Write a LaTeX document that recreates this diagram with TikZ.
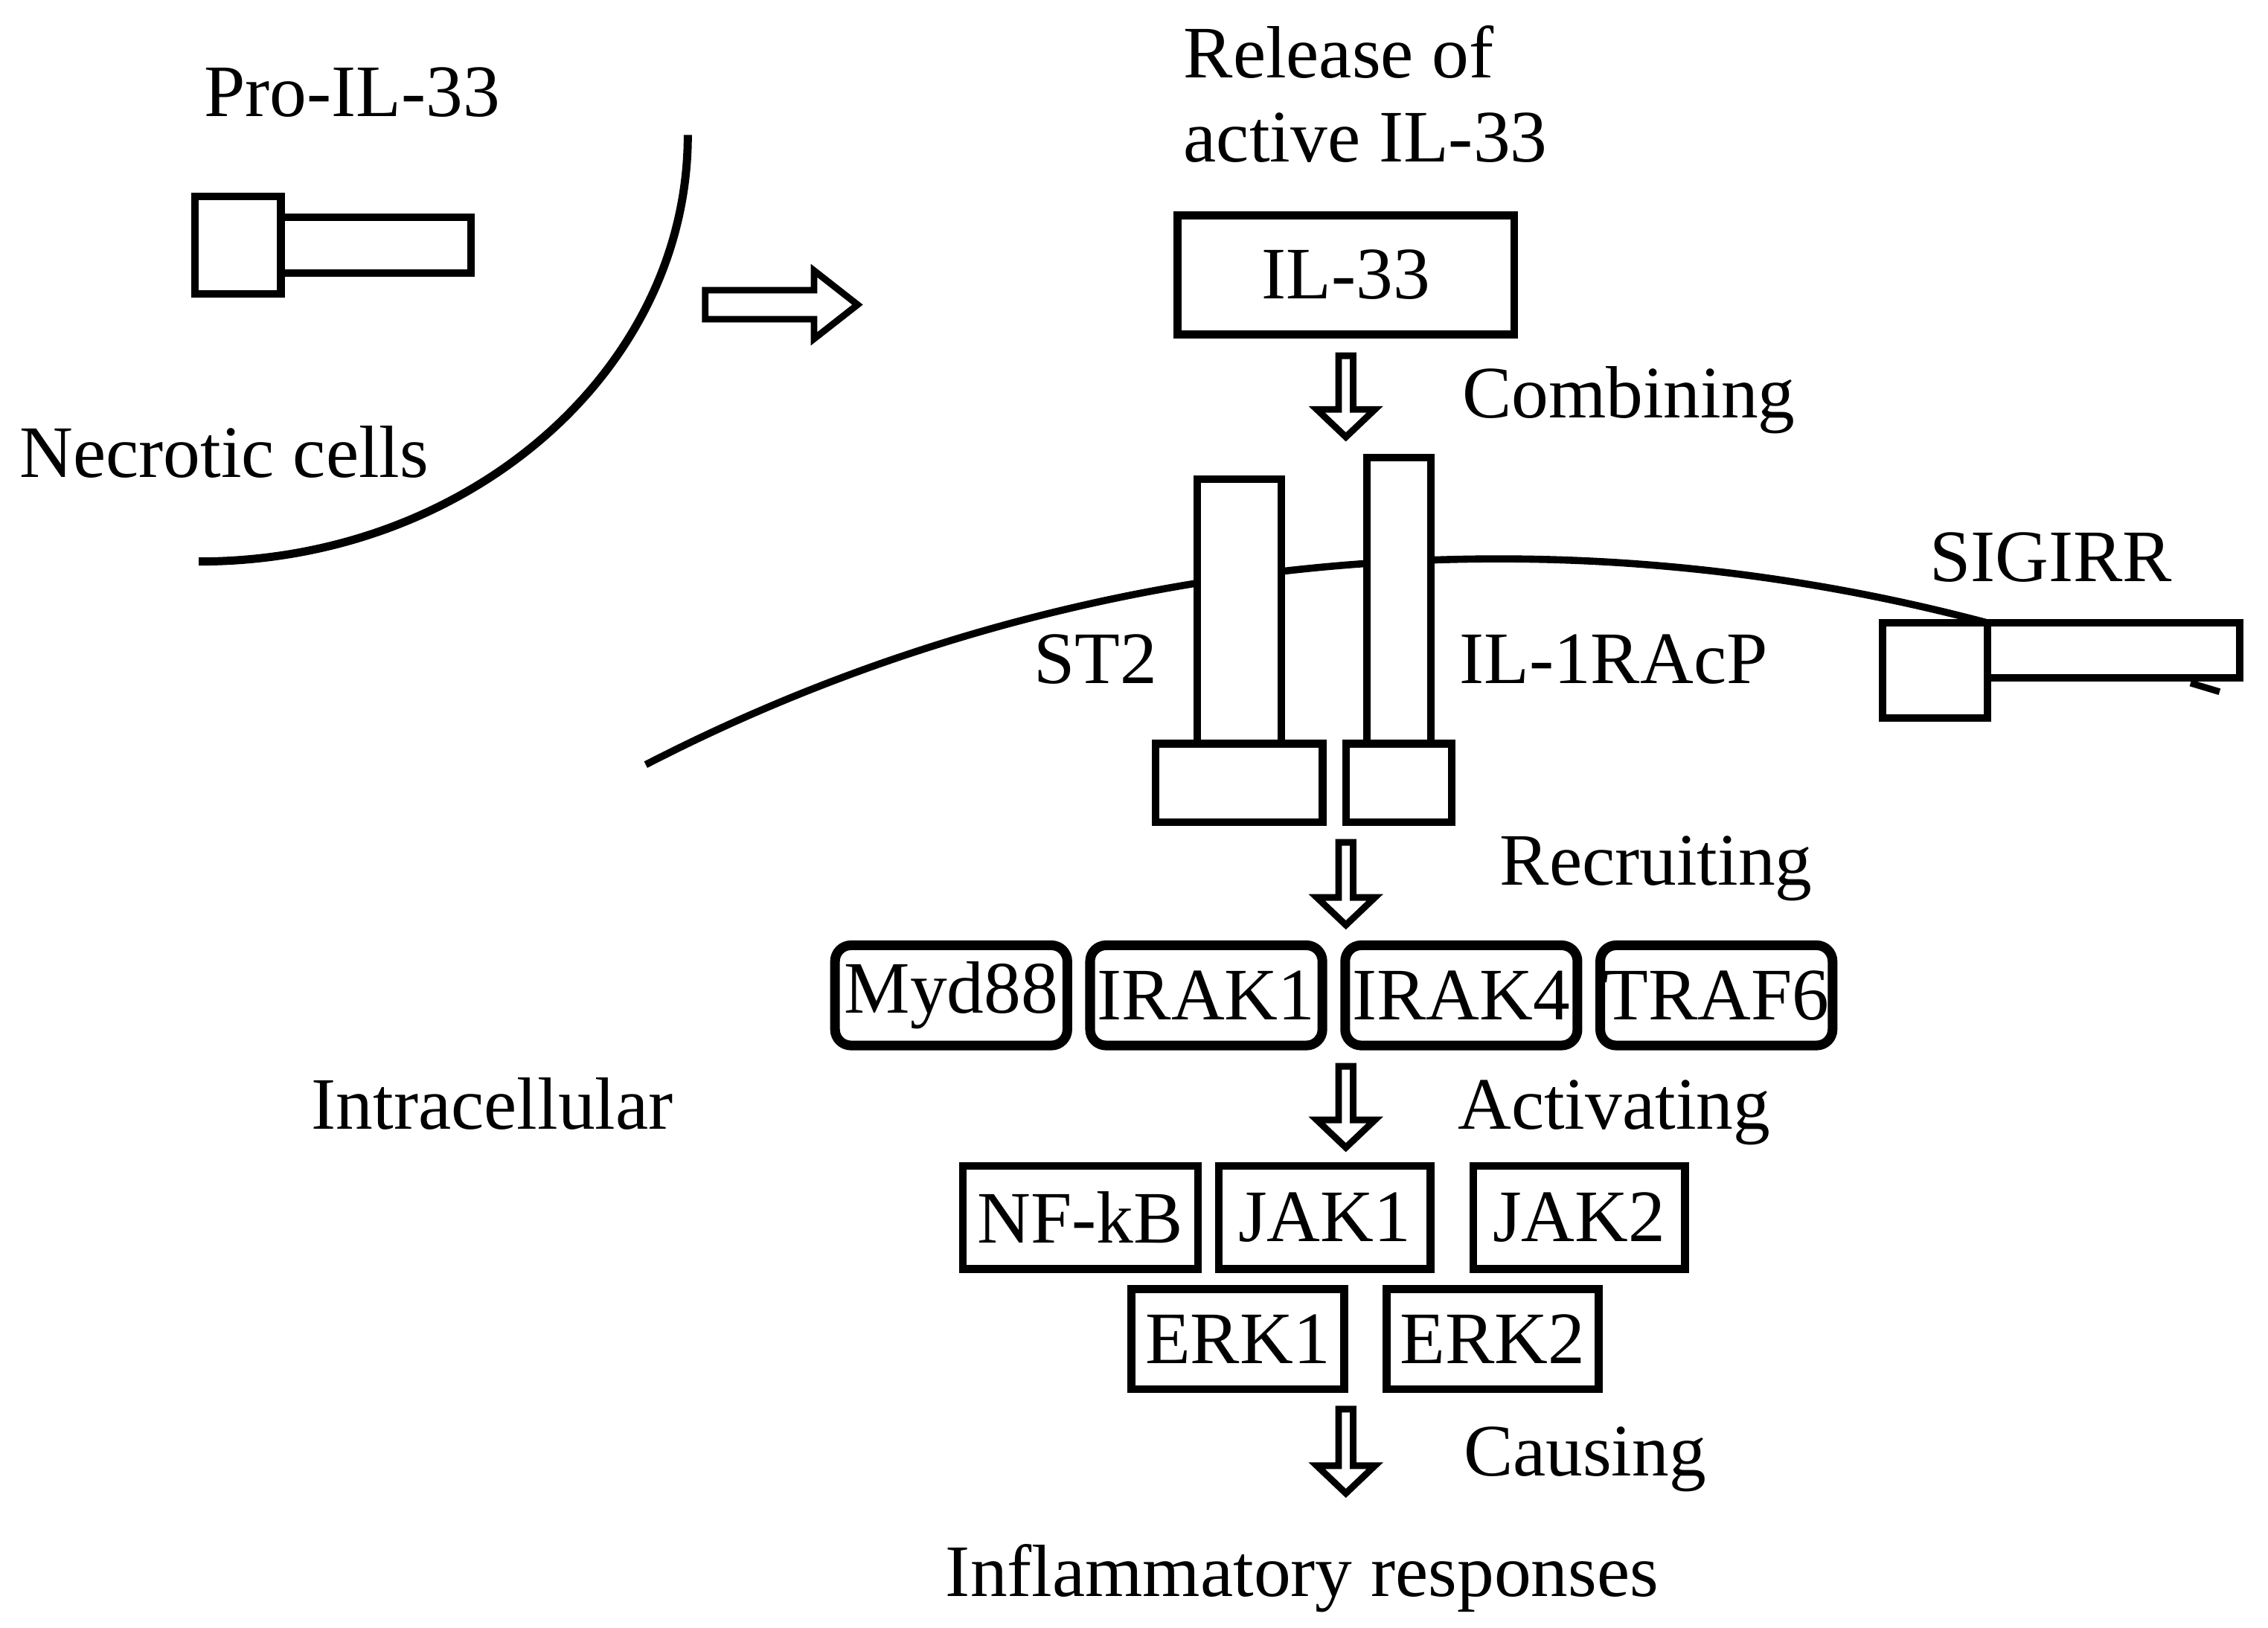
\documentclass[tikz,border=0pt]{standalone}
\usepackage{fontspec}
\setmainfont{Liberation Serif}
\usetikzlibrary{positioning,calc}

% hollow block arrow: start, tip, half shaft width, half head width, head length
\newcommand{\hollowarrow}[5]{%
  \coordinate (hb) at ($(#2)!#5!(#1)$);
  \draw[arrowline] ($(#1)!#3!90:(#2)$) -- ($(hb)!#3!-90:(#1)$) -- ($(hb)!#4!-90:(#1)$)
    -- (#2) -- ($(hb)!#4!90:(#1)$) -- ($(hb)!#3!90:(#1)$) -- ($(#1)!#3!-90:(#2)$) -- cycle;
}

\begin{document}
\begin{tikzpicture}[
    x=0.01cm, y=-0.01cm,
    every node/.style={font=\fontsize{14.5}{16.4}\selectfont},
    lbl/.style={inner sep=0pt},
    part/.style={rectangle, draw, fill=white, line width=1.5pt, inner sep=0pt, outer sep=0pt},
    box/.style={rectangle, draw, line width=1.5pt, inner sep=0pt, minimum height=0.71cm},
    rbox/.style={box, line width=1.9pt, rounded corners=0.11cm, minimum width=1.6cm, minimum height=0.69cm},
    membrane/.style={line width=1.4pt},
    arrowline/.style={line width=1.3pt, line join=miter}
]
    \useasboundingbox (0,0) rectangle (1563,1121.5);

    % necrotic cell
    \draw[membrane, line width=1.6pt] (474,93) .. controls (474,255) and (323,387) .. (137,387);
    \node[part, minimum width=0.59cm, minimum height=0.67cm] (prohead) at (164,169) {};
    \node[part, minimum width=1.31cm, minimum height=0.385cm, anchor=west] (protail) at (prohead.east) {};
    \node[lbl, anchor=base west] (prolbl) at (140,80) {Pro-IL-33};
    \node[lbl, anchor=base west] (necrotic) at (13,329) {Necrotic cells};

    % release
    \coordinate (rel-s) at (486,210);
    \coordinate (rel-t) at (591,210);
    \hollowarrow{rel-s}{rel-t}{0.1cm}{0.235cm}{0.3cm}
    \node[lbl, anchor=north west, align=left] (release) at (815,17) {Release of\\active IL-33};
    \node[box, minimum width=2.32cm, minimum height=0.82cm] (il33) at (927.5,189.5) {IL-33};

    % SIGIRR
    \node[part, minimum width=0.72cm, minimum height=0.655cm] (sighead) at (1333.5,462) {};
    \node[part, minimum width=1.74cm, minimum height=0.38cm, anchor=north west] (sigtail) at (sighead.north east) {};
    \coordinate (stub-a) at ($(sigtail.south east)+(-34,3.5)$);
    \coordinate (stub-b) at ($(sigtail.south east)+(-14,9.5)$);
    \draw[arrowline] (stub-a) -- (stub-b);
    \node[lbl, anchor=base west] (sigirr) at (1329,401) {SIGIRR};

    % cell membrane
    \draw[membrane] (445,527) .. controls (730,380) and (1060,347) .. (sighead.north east);

    % receptors
    \node[part, minimum width=1.15cm, minimum height=0.54cm] (st2base) at (854,539.5) {};
    \node[part, minimum width=0.58cm, minimum height=1.82cm, anchor=south] (st2) at (st2base.north) {};
    \node[part, minimum width=0.73cm, minimum height=0.54cm] (il1base) at (964,539.5) {};
    \node[part, minimum width=0.44cm, minimum height=1.97cm, anchor=south] (il1) at (il1base.north) {};
    \node[lbl, anchor=base east] (st2lbl) at (798,471) {ST2};
    \node[lbl, anchor=base west] (il1lbl) at (1005,471) {IL-1RAcP};

    \coordinate (comb-s) at ($(il33.south)+(0,12)$);
    \coordinate (comb-t) at ($(comb-s)+(0,56)$);
    \hollowarrow{comb-s}{comb-t}{0.05cm}{0.2cm}{0.19cm}
    \node[lbl, anchor=base west] (combining) at (1007,288) {Combining};

    % adaptor row
    \node[rbox] (myd88) at (655.5,686) {Myd88};
    \node[rbox, right=0.09cm of myd88] (irak1) {IRAK1};
    \node[rbox, right=0.09cm of irak1] (irak4) {IRAK4};
    \node[rbox, right=0.09cm of irak4] (traf6) {TRAF6};

    \coordinate (recr-s) at ($(il33.south |- st2base.south)+(0,14)$);
    \coordinate (recr-t) at ($(recr-s)+(0,57)$);
    \hollowarrow{recr-s}{recr-t}{0.05cm}{0.2cm}{0.19cm}
    \node[lbl, anchor=base west] (recruiting) at (1033,610) {Recruiting};

    % kinase rows
    \node[box, minimum width=1.62cm] (nfkb) at (744.5,839) {NF-kB};
    \node[box, minimum width=1.46cm, right=0.09cm of nfkb] (jak1) {JAK1};
    \node[box, minimum width=1.46cm, right=0.24cm of jak1] (jak2) {JAK2};
    \node[box, minimum width=1.465cm, minimum height=0.69cm] (erk1) at (853,923) {ERK1};
    \node[box, minimum width=1.46cm, minimum height=0.69cm, right=0.24cm of erk1] (erk2) {ERK2};

    \coordinate (act-s) at ($(il33.south |- irak1.south)+(0,11)$);
    \coordinate (act-t) at ($(act-s)+(0,56)$);
    \hollowarrow{act-s}{act-t}{0.05cm}{0.2cm}{0.19cm}
    \node[lbl, anchor=base west] (activating) at (1004,778) {Activating};
    \node[lbl, anchor=base west] (intra) at (214,778) {Intracellular};

    \coordinate (cause-s) at ($(il33.south |- erk1.south)+(0,11)$);
    \coordinate (cause-t) at ($(cause-s)+(0,58)$);
    \hollowarrow{cause-s}{cause-t}{0.05cm}{0.2cm}{0.19cm}
    \node[lbl, anchor=base west] (causing) at (1008,1017) {Causing};
    \node[lbl, anchor=base west] (inflam) at (651,1100) {Inflammatory responses};
\end{tikzpicture}
\end{document}
